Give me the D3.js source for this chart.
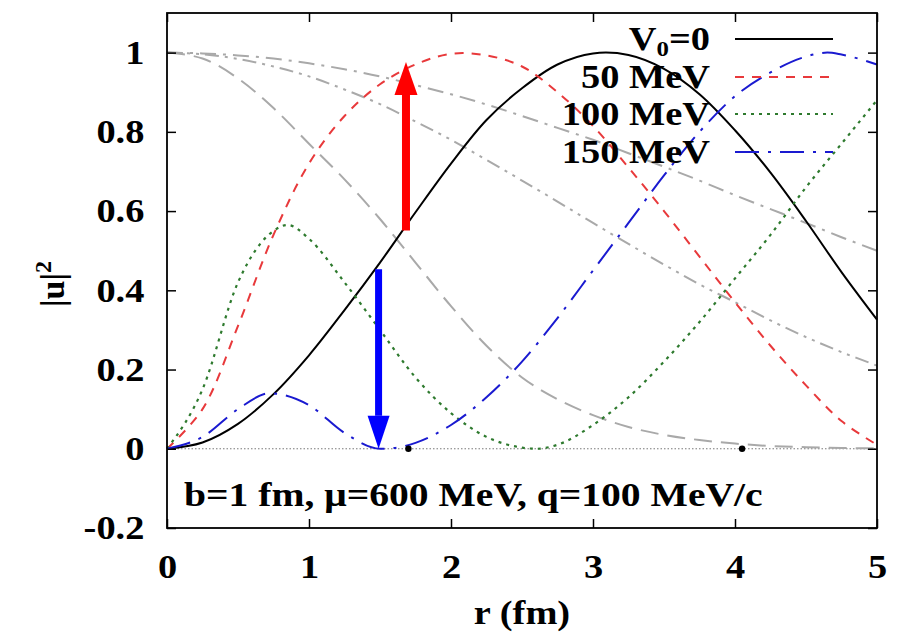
<!DOCTYPE html>
<html><head><meta charset="utf-8">
<script src="https://cdn.jsdelivr.net/npm/d3@7"></script>
<style>body{margin:0;background:#fff}svg{display:block}</style>
</head><body>
<svg id="c" width="905" height="638"></svg>
<script>
const rGrid = [0,0.25,0.5,0.75,1,1.25,1.5,1.75,2,2.25,2.5,2.75,3,3.25,3.5,3.75,4,4.25,4.5,4.75,5];
const v0Vals   = [0,0.016,0.063,0.138,0.236,0.35,0.47,0.597,0.72,0.83,0.91,0.97,0.998,0.994,0.959,0.895,0.804,0.697,0.575,0.446,0.326];
const mev50Vals= [0,0.10,0.31,0.54,0.72,0.84,0.92,0.97,0.997,0.993,0.965,0.90,0.815,0.71,0.60,0.485,0.37,0.26,0.16,0.07,0.01];
const r100 = [0,0.25,0.5,0.75,0.85,1,1.25,1.5,1.75,2,2.25,2.5,2.6,2.75,3,3.25,3.5,3.75,4,4.25,4.5,4.75,5];
const mev100Vals=[0,0.15,0.42,0.55,0.565,0.53,0.42,0.30,0.18,0.09,0.03,0.003,0,0.01,0.06,0.13,0.22,0.32,0.43,0.54,0.66,0.77,0.88];
const r150 = [0,0.25,0.5,0.72,1,1.25,1.5,1.6,1.75,2,2.25,2.5,2.75,3,3.25,3.5,3.75,4,4.25,4.5,4.65,4.75,5];
const mev150Vals=[0,0.03,0.10,0.14,0.11,0.04,0.0,0.002,0.015,0.06,0.13,0.22,0.33,0.45,0.57,0.69,0.80,0.89,0.95,0.99,1.0,0.995,0.97];
const gray1Vals = [1,0.998,0.993,0.985,0.973,0.958,0.94,0.918,0.895,0.869,0.84,0.81,0.78,0.746,0.712,0.677,0.64,0.605,0.57,0.534,0.5];
const gray2Vals = [1,0.996,0.984,0.965,0.94,0.907,0.87,0.826,0.78,0.729,0.677,0.624,0.57,0.517,0.465,0.415,0.37,0.324,0.282,0.244,0.21];
const gray3Vals = [1,0.985,0.935,0.86,0.77,0.68,0.58,0.47,0.36,0.26,0.18,0.125,0.085,0.055,0.035,0.022,0.013,0.007,0.004,0.002,0.001];
const xTicks = [0,1,2,3,4,5];
const yTicks = [-0.2,0,0.2,0.4,0.6,0.8,1];
const yTickLabels = ["-0.2","0","0.2","0.4","0.6","0.8","1"];
const legendLabels = ["V0=0","50 MeV","100 MeV","150 MeV"];
const markDots = [1.7,4.05];
const redArrow = {r:1.683, from:0.551, to:0.976};
const blueArrow = {r:1.49, from:0.453, to:0.0};
const note = "b=1 fm, \u03bc=600 MeV, q=100 MeV/c";

const svg = d3.select("#c");
const L=167,R=877,T=13,B=528;
const x = d3.scaleLinear().domain([0,5]).range([L,R]);
const y = d3.scaleLinear().domain([-0.2,1.1]).range([B,T]);
const FONT = "'Liberation Serif','Times New Roman',serif";
const SX = 1.13;

// zero line
svg.append("line").attr("x1",x(0)).attr("x2",x(5)).attr("y1",y(0)).attr("y2",y(0))
  .attr("stroke","#777").attr("stroke-width",1).attr("stroke-dasharray","1.5,2");

const lineMono = d3.line().curve(d3.curveMonotoneX);
const lineSmooth = d3.line().curve(d3.curveCatmullRom.alpha(0.5));
function series(xs, ys, color, dash, w, gen){
  svg.append("path").attr("d", gen(xs.map((r,i)=>[x(r),y(ys[i])])))
    .attr("fill","none").attr("stroke",color).attr("stroke-width",w).attr("stroke-dasharray",dash);
}
const GR="#a9a9a9";
series(rGrid, gray1Vals, GR, "16,7,3,7", 2, lineSmooth);
series(rGrid, gray2Vals, GR, "14,6,3,6,3,6", 2, lineSmooth);
series(rGrid, gray3Vals, GR, "18,9", 2, lineMono);
series(rGrid, v0Vals, "#000", null, 2, lineSmooth);
series(rGrid, mev50Vals, "#e8393b", "9,8", 2, lineSmooth);
series(r100, mev100Vals, "#2e7a2e", "3,5", 2.2, lineMono);
series(r150, mev150Vals, "#1a1ad0", "24,9,3,9", 2, lineMono);

markDots.forEach(r=>svg.append("circle").attr("cx",x(r)).attr("cy",y(0)).attr("r",3.2).attr("fill","#000"));

// frame
svg.append("rect").attr("x",L).attr("y",T).attr("width",R-L).attr("height",B-T)
  .attr("fill","none").attr("stroke","#000").attr("stroke-width",1.8);

// axes
function styleAxis(g){
  g.select(".domain").remove();
  g.selectAll(".tick line").attr("stroke","#000").attr("stroke-width",1.5);
  g.selectAll("text").attr("font-family",FONT).attr("font-weight","bold").attr("font-size",34).attr("fill","#000");
}
const ax = svg.append("g").attr("transform",`translate(0,${B})`)
  .call(d3.axisBottom(x).tickValues(xTicks).tickFormat(d3.format("d")).tickSizeInner(-9).tickSizeOuter(0).tickPadding(26));
styleAxis(ax);
ax.selectAll("text").attr("transform",`scale(${SX},1)`);
const axT = svg.append("g").attr("transform",`translate(0,${T})`)
  .call(d3.axisTop(x).tickValues(xTicks).tickFormat("").tickSizeInner(-9).tickSizeOuter(0));
styleAxis(axT);
const ay = svg.append("g").attr("transform",`translate(${L},0)`)
  .call(d3.axisLeft(y).tickValues(yTicks).tickFormat((d,i)=>yTickLabels[i]).tickSizeInner(-9).tickSizeOuter(0).tickPadding(20));
styleAxis(ay);
ay.selectAll("text").attr("transform",`scale(${SX},1)`);
const ayR = svg.append("g").attr("transform",`translate(${R},0)`)
  .call(d3.axisRight(y).tickValues(yTicks).tickFormat("").tickSizeInner(-9).tickSizeOuter(0));
styleAxis(ayR);

// axis titles
svg.append("text").attr("transform",`translate(522,624) scale(${SX},1)`).attr("text-anchor","middle")
  .attr("font-family",FONT).attr("font-weight","bold").attr("font-size",34).text("r (fm)");
const yl = svg.append("text").attr("transform",`translate(64,284) rotate(-90)`).attr("text-anchor","middle")
  .attr("font-family",FONT).attr("font-weight","bold").attr("font-size",34);
yl.append("tspan").text("|u|");
yl.append("tspan").attr("dy",-13).attr("font-size",24).text("2");

// note
svg.append("text").attr("transform",`translate(184,506) scale(1.2,1)`)
  .attr("font-family",FONT).attr("font-weight","bold").attr("font-size",33).text(note);

// legend
const legY=[39,77,114,152];
const legStyles=[{c:"#000",d:null},{c:"#e8393b",d:"9,8"},{c:"#2e7a2e",d:"3,5"},{c:"#1a1ad0",d:"24,9,3,9"}];
legendLabels.forEach((lab,i)=>{
  svg.append("line").attr("x1",735).attr("x2",833).attr("y1",legY[i]).attr("y2",legY[i])
    .attr("stroke",legStyles[i].c).attr("stroke-width",2).attr("stroke-dasharray",legStyles[i].d);
  const t=svg.append("text").attr("transform",`translate(710,${legY[i]+11}) scale(${SX},1)`).attr("text-anchor","end")
    .attr("font-family",FONT).attr("font-weight","bold").attr("font-size",34);
  if(i===0){
    t.append("tspan").text("V");
    t.append("tspan").attr("dy",6).attr("font-size",22).text("0");
    t.append("tspan").attr("dy",-6).text("=0");
  } else t.text(lab);
});

// arrows
function arrow(a,color,shaftW,headW,headL){
  const xc=x(a.r), y0=y(a.from), y1=y(a.to);
  const dir = y1<y0 ? -1 : 1;
  const yb = y1 - dir*headL;
  svg.append("line").attr("x1",xc).attr("x2",xc).attr("y1",y0).attr("y2",yb)
    .attr("stroke",color).attr("stroke-width",shaftW);
  svg.append("path").attr("d",`M${xc-headW/2},${yb}L${xc+headW/2},${yb}L${xc},${y1}Z`).attr("fill",color);
}
arrow(redArrow,"#ff0000",8,23,33);
arrow(blueArrow,"#0000ff",7,22,33);
</script>
</body></html>
